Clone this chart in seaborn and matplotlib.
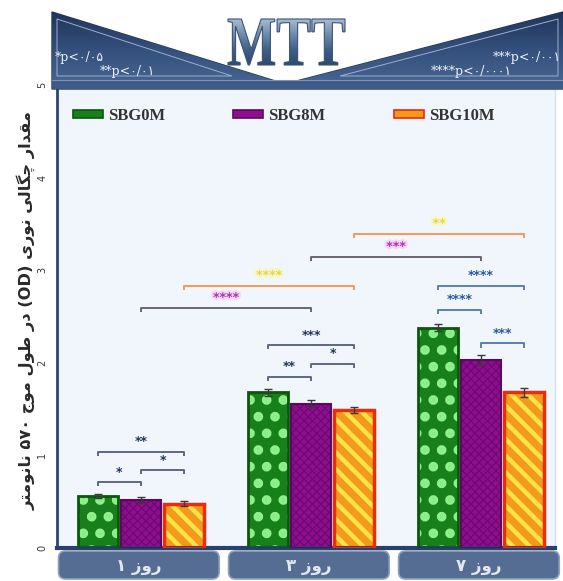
import numpy as np
import pandas as pd
import seaborn as sns
import matplotlib
matplotlib.use("Agg")
import matplotlib.pyplot as plt
from matplotlib.patches import Rectangle, FancyBboxPatch, Polygon, PathPatch
from matplotlib.textpath import TextPath
from matplotlib.font_manager import FontProperties
from matplotlib.transforms import Affine2D
import matplotlib.patheffects as pe

# ---------------- data ----------------
days = ["روز ۱", "روز ۳", "روز ۷"]
groups = ["SBG0M", "SBG8M", "SBG10M"]
od_sbg0m = [0.56, 1.68, 2.38]
od_sbg8m = [0.52, 1.56, 2.03]
od_sbg10m = [0.48, 1.49, 1.68]
sd_sbg0m = [0.02, 0.04, 0.04]
sd_sbg8m = [0.03, 0.04, 0.05]
sd_sbg10m = [0.03, 0.03, 0.05]
y_ticks = [0, 1, 2, 3, 4, 5]
y_label = "مقدار چگالی نوری (OD) در طول موج ۵۷۰ نانومتر"
title = "MTT"
p_notes_left = ["*p<۰/۰۵", "**p<۰/۰۱"]
p_notes_right = ["***p<۰/۰۰۱", "****p<۰/۰۰۰۱"]

# comparisons inside one day: (day, group a, group b, bracket height, stars)
within_day = [
    (0, 0, 1, 0.71, "*"), (0, 1, 2, 0.84, "*"), (0, 0, 2, 1.04, "**"),
    (1, 0, 1, 1.85, "**"), (1, 1, 2, 1.99, "*"), (1, 0, 2, 2.19, "***"),
    (2, 0, 1, 2.57, "****"), (2, 1, 2, 2.21, "***"), (2, 0, 2, 2.83, "****"),
]
# comparisons between days for one group: (day a, day b, group, height, stars)
between_days = [
    (0, 1, 1, 2.59, "****"), (0, 1, 2, 2.83, "****"),
    (1, 2, 1, 3.14, "***"), (1, 2, 2, 3.39, "**"),
]

# ---------------- Persian text shaping (presentation forms, visual order) ----------------
FORMS = {  # isolated, final, initial, medial
    "ا": ("\uFE8D", "\uFE8E", None, None),
    "د": ("\uFEA9", "\uFEAA", None, None),
    "ر": ("\uFEAD", "\uFEAE", None, None),
    "ز": ("\uFEAF", "\uFEB0", None, None),
    "و": ("\uFEED", "\uFEEE", None, None),
    "م": ("\uFEE1", "\uFEE2", "\uFEE3", "\uFEE4"),
    "ق": ("\uFED5", "\uFED6", "\uFED7", "\uFED8"),
    "ل": ("\uFEDD", "\uFEDE", "\uFEDF", "\uFEE0"),
    "ن": ("\uFEE5", "\uFEE6", "\uFEE7", "\uFEE8"),
    "ط": ("\uFEC1", "\uFEC2", "\uFEC3", "\uFEC4"),
    "ج": ("\uFE9D", "\uFE9E", "\uFE9F", "\uFEA0"),
    "ت": ("\uFE95", "\uFE96", "\uFE97", "\uFE98"),
    "چ": ("\uFB7A", "\uFB7B", "\uFB7C", "\uFB7D"),
    "گ": ("\uFB92", "\uFB93", "\uFB94", "\uFB95"),
    "ی": ("\uFBFC", "\uFBFD", "\uFBFE", "\uFBFF"),
}


def shape_fa(text):
    out = []
    for w in text.split(" "):
        if any(ch in FORMS for ch in w):
            res = []
            for i, ch in enumerate(w):
                f = FORMS.get(ch)
                if f is None:
                    res.append(ch)
                    continue
                prev = w[i - 1] if i > 0 else None
                nxt = w[i + 1] if i + 1 < len(w) else None
                jp = prev in FORMS and FORMS[prev][2] is not None
                jn = nxt in FORMS and f[2] is not None
                res.append(f[3] if (jp and jn) else f[1] if jp else f[2] if jn else f[0])
            out.append("".join(reversed(res)))
        else:
            out.append(w)
    return " ".join(reversed(out))


# ---------------- figure ----------------
W, H = 563, 581
sns.set_theme(style="white")
plt.rcParams["font.family"] = ["DejaVu Sans"]
plt.rcParams["hatch.linewidth"] = 1.0

fig = plt.figure(figsize=(W / 100, H / 100), dpi=100)
fig.patch.set_facecolor("white")
ax = fig.add_axes([57 / W, 1 - 548 / H, (555 - 57) / W, (548 - 85) / H])
ax.set_facecolor("#f1f6fc")

df = pd.DataFrame({
    "day": np.repeat(days, 3),
    "group": groups * 3,
    "od": [v for trio in zip(od_sbg0m, od_sbg8m, od_sbg10m) for v in trio],
    "sd": [v for trio in zip(sd_sbg0m, sd_sbg8m, sd_sbg10m) for v in trio],
})

sns.barplot(data=df, x="day", y="od", hue="group", order=days, hue_order=groups,
            errorbar=None, width=0.76, gap=0.07, legend=False, ax=ax, zorder=2)

styles = {
    "SBG0M": dict(face="#17801a", hatch=".", hcolor="#8ef08a", edge="#0c560d", lw=2.0, hlw=4.5),
    "SBG8M": dict(face="#8e0d90", hatch="xxxx", hcolor="#6a0a6c", edge="#5a0a5c", lw=1.5, hlw=0.8),
    "SBG10M": dict(face="#f39a1c", hatch="\\\\", hcolor="#f9e447", edge="#ec2a0c", lw=2.5, hlw=3.2),
}
sds = {"SBG0M": sd_sbg0m, "SBG8M": sd_sbg8m, "SBG10M": sd_sbg10m}
means = {"SBG0M": od_sbg0m, "SBG8M": od_sbg8m, "SBG10M": od_sbg10m}
centers = {}
legend_handles = []
for g, cont in zip(groups, ax.containers):
    st = styles[g]
    xs = []
    for p in cont.patches:
        p.set_facecolor(st["face"])
        p.set_edgecolor(st["hcolor"])
        p.set_hatch(st["hatch"])
        p.set_linewidth(0)
        if hasattr(p, "set_hatch_linewidth"):
            p.set_hatch_linewidth(st["hlw"])
        ax.add_patch(Rectangle((p.get_x(), p.get_y()), p.get_width(), p.get_height(),
                               fill=False, edgecolor=st["edge"], linewidth=st["lw"], zorder=3))
        xs.append(p.get_x() + p.get_width() / 2)
    centers[g] = xs
    ax.errorbar(xs, means[g], yerr=sds[g], fmt="none", ecolor="#3a3a3a",
                elinewidth=1.0, capsize=3, capthick=1.0, zorder=4)
    legend_handles.append(Rectangle((0, 0), 1, 1, facecolor=st["face"], edgecolor=st["edge"],
                                    linewidth=1.2, label=g))

# ---------------- significance brackets ----------------
def bracket(x1, x2, y, stars, lcolor, tcolor, glow=None):
    tick = 0.045
    ax.plot([x1, x1, x2, x2], [y - tick, y, y, y - tick], color=lcolor, lw=1.4,
            solid_capstyle="butt", zorder=5)
    eff = [pe.withStroke(linewidth=3, foreground=glow)] if glow else None
    ax.text((x1 + x2) / 2, y + 0.04, stars, ha="center", va="bottom", fontsize=9,
            fontweight="bold", color=tcolor, zorder=6, path_effects=eff)

for d, a, b, h, s in within_day:
    if d == 2:
        lc, tc = "#5a7fb2", "#2557a3"
    else:
        lc, tc = "#5d6880", "#1f335e"
    bracket(centers[groups[a]][d], centers[groups[b]][d], h, s, lc, tc)

for d1, d2, g, h, s in between_days:
    if g == 1:
        lc, tc, gl = "#6b6472", "#b52cb8", "#f4d8f4"
    else:
        lc, tc, gl = "#f39a5a", "#e0d84a", "#f8f6c8"
    bracket(centers[groups[g]][d1], centers[groups[g]][d2], h, s, lc, tc, gl)

# ---------------- axes styling ----------------
ax.set_xlim(-0.494, 2.435)
ax.set_ylim(0, 5)
ax.set_yticks(y_ticks)
ax.set_yticklabels([str(t) for t in y_ticks], rotation=90, va="center", fontsize=7,
                   color="#3a3a3a")
ax.tick_params(axis="y", length=0, pad=7)
ax.set_xticks([])
ax.set_xlabel("")
ax.set_ylabel("")
ax.spines["top"].set_visible(False)
ax.spines["right"].set_color("#d6e0ec")
ax.spines["right"].set_linewidth(1)
ax.spines["left"].set_color("#2b4470")
ax.spines["left"].set_linewidth(2)
ax.spines["bottom"].set_color("#27416e")
ax.spines["bottom"].set_linewidth(3)

leg = ax.legend(handles=legend_handles, ncol=3, loc="upper left", bbox_to_anchor=(0.032, 0.951),
                frameon=False, borderpad=0, borderaxespad=0, handlelength=1.8,
                handleheight=0.36, handletextpad=0.3, columnspacing=4.1,
                prop=dict(family="Liberation Serif", weight="bold", size=12))
for t in leg.get_texts():
    t.set_color("#333333")

fig.text(26 / W, 1 - 310 / H, shape_fa(y_label), rotation=90, ha="center", va="center",
         fontsize=11.7, fontweight="bold", color="#2a2a2a")

# ---------------- decorations: header banner and day tabs ----------------
deco = fig.add_axes([0, 0, 1, 1], zorder=10)
deco.set_xlim(0, W)
deco.set_ylim(H, 0)
deco.axis("off")
deco.patch.set_alpha(0)

banner = Polygon([(52, 12), (285, 84), (563, 12), (563, 89), (52, 89)], closed=True,
                 facecolor="none", edgecolor="#223658", lw=1)
deco.add_patch(banner)
grad = np.linspace(0, 1, 100)[:, None]
img = deco.imshow(grad, extent=(52, 563, 89, 12), cmap=matplotlib.colors.LinearSegmentedColormap.from_list(
    "banner", ["#21355a", "#34507c", "#4a6894"]), aspect="auto", zorder=1)
img.set_clip_path(banner)
deco.add_patch(Rectangle((52, 80), W - 52, 9, facecolor="#3e5b87", edgecolor="none", zorder=2))
deco.plot([52, W], [80, 80], color="#7f95b8", lw=0.8, zorder=3)
deco.add_patch(Polygon([(57, 19), (57, 76), (232, 76)], closed=True, facecolor="none",
                       edgecolor="#9cb0cf", lw=0.7, zorder=3))
deco.add_patch(Polygon([(558, 19), (558, 76), (340, 76)], closed=True, facecolor="none",
                       edgecolor="#9cb0cf", lw=0.7, zorder=3))

pfont = dict(family=["DejaVu Serif", "DejaVu Sans"], fontsize=9, color="#eef2f8", zorder=4)
deco.text(55, 58, p_notes_left[0], ha="left", va="center", **pfont)
deco.text(100, 71, p_notes_left[1], ha="left", va="center", **pfont)
deco.text(561, 58, p_notes_right[0], ha="right", va="center", **pfont)
deco.text(512, 71, p_notes_right[1], ha="right", va="center", **pfont)

# big title with a steel gradient
tp = TextPath((0, 0), title, size=100, prop=FontProperties(family="Liberation Serif", weight="bold"))
bb = tp.get_extents()
x0, x1, y0, y1 = 228, 345, 19, 65
tr = (Affine2D().translate(-bb.x0, -bb.y0)
      .scale((x1 - x0) / bb.width, -(y1 - y0) / bb.height)
      .translate(x0, y1))
tpath = tr.transform_path(tp)
title_patch = PathPatch(tpath, facecolor="none", edgecolor="#3a5377", lw=0.8, zorder=6)
deco.add_patch(title_patch)
timg = deco.imshow(np.linspace(0, 1, 100)[:, None], extent=(x0, x1, y1, y0), aspect="auto",
                   cmap=matplotlib.colors.LinearSegmentedColormap.from_list(
                       "steel", ["#a7bbd1", "#6f8cad", "#3f5f86", "#2e4a70"]), zorder=5)
timg.set_clip_path(title_patch)
deco.set_xlim(0, W)
deco.set_ylim(H, 0)

# day tabs below the axis (x extents taken from the category positions)
for i, d in enumerate(days):
    left = ax.transData.transform((i - 0.485, 0))[0]
    right = ax.transData.transform((i + 0.46, 0))[0]
    tab = FancyBboxPatch((left, 551), right - left, 28,
                         boxstyle="round,pad=0,rounding_size=7",
                         facecolor="#566d93", edgecolor="#8fa1bf", lw=1.2, zorder=2)
    deco.add_patch(tab)
    deco.text((left + right) / 2, 566, shape_fa(d), ha="center", va="center",
              fontsize=12, fontweight="bold", color="#e3e7ee", zorder=3)

fig.savefig("out.png", dpi=100)
